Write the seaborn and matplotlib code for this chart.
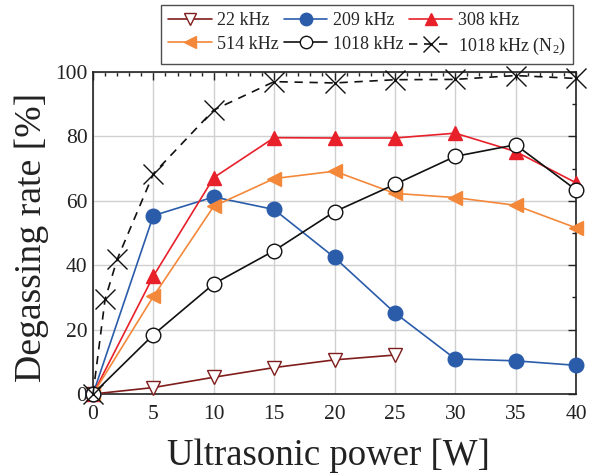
import matplotlib
matplotlib.use("Agg")
import matplotlib.pyplot as plt
import seaborn as sns
import pandas as pd
from matplotlib.ticker import MultipleLocator

power = [0, 5, 10, 15, 20, 25, 30, 35, 40]
power_22 = [0, 5, 10, 15, 20, 25]
power_n2 = [0, 1, 2, 5, 10, 15, 20, 25, 30, 35, 40]

rate_22 = [0, 2.0, 5.2, 8.2, 10.6, 12.1]
rate_209 = [0, 55.4, 61.2, 57.3, 42.4, 25.2, 10.9, 10.3, 8.9]
rate_308 = [0, 36.6, 67.2, 79.6, 79.5, 79.5, 81.0, 75.3, 65.6]
rate_514 = [0, 30.3, 58.3, 66.9, 69.2, 62.3, 61.0, 58.6, 51.6]
rate_1018 = [0, 18.4, 34.2, 44.5, 56.6, 65.1, 73.8, 77.4, 63.4]
rate_n2 = [0, 29.4, 41.8, 68.4, 88.2, 97.0, 96.6, 97.6, 97.7, 98.9, 98.0]

labels = ["22 kHz", "209 kHz", "308 kHz", "514 kHz", "1018 kHz", "1018 kHz (N$_2$)"]

sns.set_theme(style="white")
plt.rcParams["font.family"] = ["Liberation Serif", "DejaVu Serif"]
plt.rcParams["mathtext.fontset"] = "custom"
plt.rcParams["mathtext.rm"] = "Liberation Serif"
plt.rcParams["mathtext.it"] = "Liberation Serif:italic"

fig = plt.figure(figsize=(5.93, 4.76), dpi=100)
ax = fig.add_axes([93/593, 1-394/476, (576-93)/593, (394-72)/476])

series = [
    (power_22, rate_22, labels[0], "#7f1d1d", "v", "white", "-"),
    (power, rate_209, labels[1], "#2a5caa", "o", "#2a5caa", "-"),
    (power, rate_308, labels[2], "#e8202a", "^", "#e8202a", "-"),
    (power, rate_514, labels[3], "#f4883a", "<", "#f4883a", "-"),
    (power, rate_1018, labels[4], "#111111", "o", "white", "-"),
    (power_n2, rate_n2, labels[5], "#111111", "x", "#111111", (0, (5, 4))),
]

for i, (xs, ys, lab, col, mk, mfc, ls) in enumerate(series):
    df = pd.DataFrame({"x": xs, "y": ys})
    ms = 14 if mk == "x" else 10.5
    sns.lineplot(data=df, x="x", y="y", ax=ax, color=col, marker=mk,
                 markersize=ms, markerfacecolor=mfc, markeredgecolor=col,
                 markeredgewidth=1.0, linewidth=1.2, linestyle=ls,
                 label=lab, clip_on=False, zorder=3 + i, legend=False)

ax.set_xlim(0, 40)
ax.set_ylim(0, 100)
ax.xaxis.set_major_locator(MultipleLocator(5))
ax.xaxis.set_minor_locator(MultipleLocator(1))
ax.yaxis.set_major_locator(MultipleLocator(20))
ax.yaxis.set_minor_locator(MultipleLocator(10))
ax.grid(True, which="major", color="#d0d0d0", linewidth=1.0)
ax.set_axisbelow(True)
ax.tick_params(which="both", direction="in", top=True, right=True,
               labelsize=15.5, colors="#222222")
ax.tick_params(axis="x", which="both", pad=8)
ax.tick_params(axis="y", which="both", pad=4)
ax.tick_params(which="major", length=6, width=1.0)
ax.tick_params(which="minor", length=3, width=1.0)
for s in ax.spines.values():
    s.set_color("#222222")
    s.set_linewidth(1.2)

ax.set_xlabel("Ultrasonic power [W]", fontsize=26.5, color="#222222")
ax.set_ylabel("Degassing rate [%]", fontsize=27.2, color="#222222")
ax.xaxis.set_label_coords((328 - 93) / 483, -(456 - 394) / 322)
ax.yaxis.set_label_coords(-(93 - 32) / 483, (394 - 237) / 322)
ax.xaxis.label.set_va("center")
ax.yaxis.label.set_va("center")

handles, labs = ax.get_legend_handles_labels()
order = [0, 3, 1, 4, 2, 5]
leg = fig.legend([handles[i] for i in order], [labs[i] for i in order],
                 ncol=3, loc="upper right", bbox_to_anchor=(573/593, 1-5/476),
                 borderaxespad=0,
                 fontsize=13, frameon=True, fancybox=False, edgecolor="#222222",
                 handlelength=2.4, handletextpad=0.3, columnspacing=0.3,
                 labelspacing=0.35, borderpad=0.4, markerscale=0.85)
leg.get_frame().set_linewidth(1.0)

fig.savefig("out.png", dpi=100)
